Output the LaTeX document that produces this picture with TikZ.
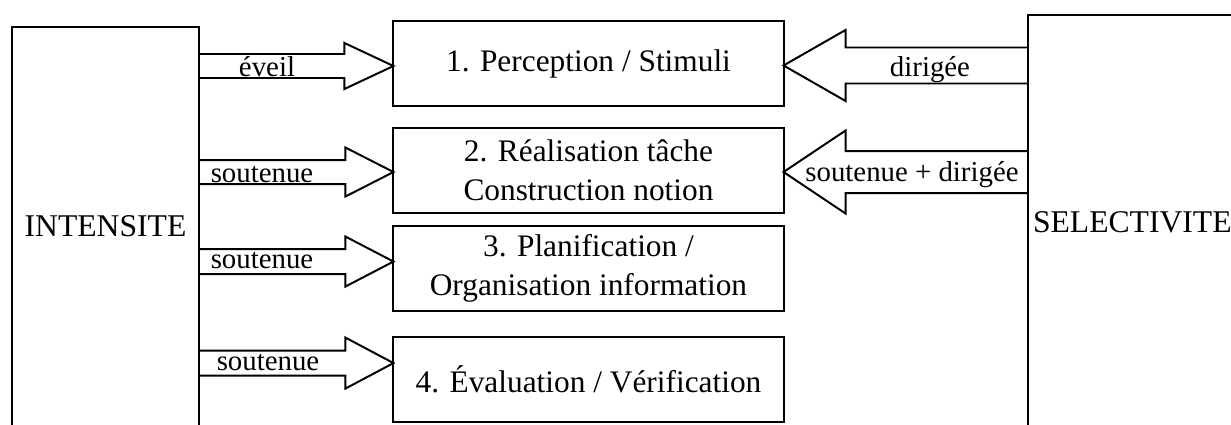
\documentclass[tikz,border=0pt]{standalone}
\usepackage{fontspec}
\setmainfont{Liberation Serif}
\usepackage{tikz}
\usetikzlibrary{positioning}
\usetikzlibrary{calc}

\tikzset{
    stage/.style={draw, line width=1.4pt, minimum width=9.75cm, minimum height=2.125cm, inner sep=0pt, outer sep=0pt, align=center, font=\fontsize{22.3}{28}\selectfont},
    side/.style={draw, line width=1.4pt, inner ysep=0pt, outer sep=0pt, font=\fontsize{22.5}{28}\selectfont},
    flowlabel/.style={inner sep=0pt, font=\fontsize{20.5}{24}\selectfont},
    fatline/.style={line width=1.4pt, line join=miter}
}

% fat arrow: tail, tip, head base offset, half shaft, half head
\newcommand{\fatarrow}[5]{%
    \path[draw, fatline] ($(#1)+(0,-#4)$) -- ($(#2)+(#3,-#4)$) -- ($(#2)+(#3,-#5)$) -- (#2) -- ($(#2)+(#3,#5)$) -- ($(#2)+(#3,#4)$) -- ($(#1)+(0,#4)$);
}

\begin{document}
\begin{tikzpicture}[x=0.025cm, y=-0.025cm]

    \useasboundingbox (0,0) rectangle (1231,425);
    \clip (0,0) rectangle (1231,425);

    % the two side columns
    \node[side, anchor=base, minimum width=4.675cm, text height=5.25cm, text depth=6.25cm] (intens) at (105.5,237) {INTENSITE};
    \node[side, anchor=base west, text width=5.5cm, inner xsep=0.125cm, align=left, text height=5.45cm, text depth=6cm] (select) at (1028,233) {SELECTIVITE};

    % the four stages
    \node[stage] (b1) at (588.5,63.5) {1. Perception / Stimuli};
    \node[stage, below=0.55cm of b1] (b2) {2. Réalisation tâche\\Construction notion};
    \node[stage, below=0.325cm of b2] (b3) {3. Planification /\\Organisation information};
    \node[stage, below=0.65cm of b3] (b4) {4. Évaluation / Vérification};

    % arrow tips and tails
    \coordinate (t1) at ($(b1.west)+(0,2.5)$);
    \coordinate (t2) at ($(b2.west)+(0,1.5)$);
    \coordinate (t3) at ($(b3.west)+(0,-7)$);
    \coordinate (t4) at ($(b4.west)+(0,-16.5)$);
    \coordinate (u1) at ($(b1.east)+(0,2)$);
    \coordinate (u2) at ($(b2.east)+(0,1.5)$);
    \coordinate (s1) at (intens.east |- t1);
    \coordinate (s2) at (intens.east |- t2);
    \coordinate (s3) at (intens.east |- t3);
    \coordinate (s4) at (intens.east |- t4);
    \coordinate (r1) at (select.west |- u1);
    \coordinate (r2) at (select.west |- u2);

    \fatarrow{s1}{t1}{-49}{12}{23}
    \fatarrow{s2}{t2}{-48}{12}{24.5}
    \fatarrow{s3}{t3}{-48}{12.5}{25}
    \fatarrow{s4}{t4}{-48}{12.5}{25.5}
    \fatarrow{r1}{u1}{62}{18}{35.5}
    \fatarrow{r2}{u2}{62}{21}{41.5}

    % arrow labels
    \node[flowlabel, anchor=base] (l1) at (267,76.5) {éveil};
    \node[flowlabel, anchor=base] (l2) at (262,182.5) {soutenue};
    \node[flowlabel, anchor=base] (l3) at (262,269) {soutenue};
    \node[flowlabel, anchor=base] (l4) at (268,371) {soutenue};
    \node[flowlabel, anchor=base] (l5) at (930,76.5) {dirigée};
    \node[flowlabel, anchor=base] (l6) at (912,182) {soutenue + dirigée};

\end{tikzpicture}
\end{document}
